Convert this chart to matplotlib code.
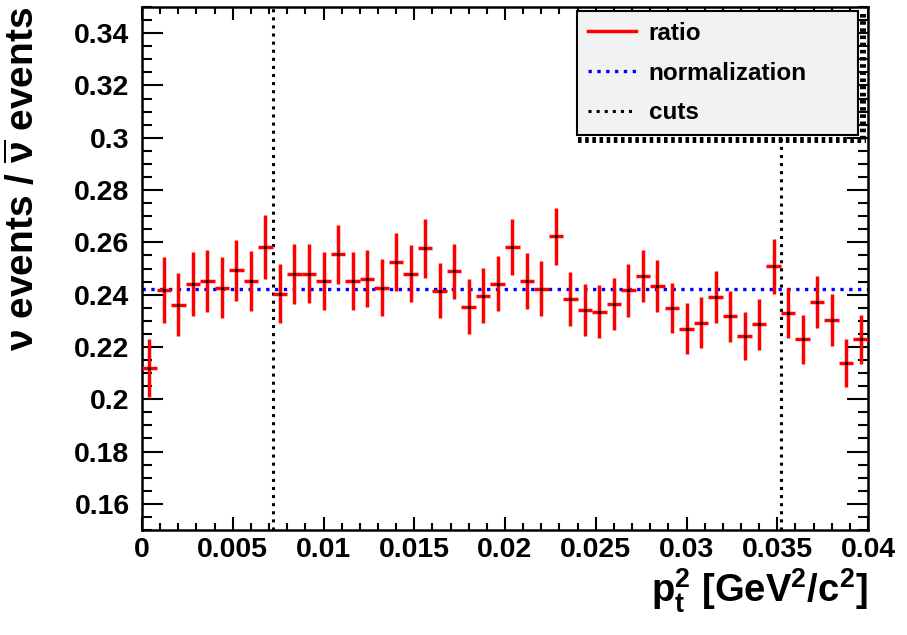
import matplotlib
matplotlib.use('Agg')
import matplotlib.pyplot as plt
from matplotlib.ticker import MultipleLocator, FuncFormatter
from matplotlib.lines import Line2D
import numpy as np

plt.rcParams['font.family'] = ['Liberation Sans', 'DejaVu Sans']
plt.rcParams['font.weight'] = 'bold'
plt.rcParams['mathtext.fontset'] = 'custom'
plt.rcParams['mathtext.rm'] = 'Liberation Sans:bold'
plt.rcParams['mathtext.it'] = 'Liberation Sans:bold'
plt.rcParams['mathtext.bf'] = 'Liberation Sans:bold'
plt.rcParams['mathtext.default'] = 'rm'

# ---- data ----
x_min, x_max = 0.0, 0.04
n_bins = 50
ratio = [0.2120, 0.2419, 0.2362, 0.2442, 0.2452, 0.2427, 0.2493, 0.2452, 0.2582, 0.2404,
         0.2480, 0.2480, 0.2452, 0.2554, 0.2452, 0.2461, 0.2427, 0.2526, 0.2479, 0.2577,
         0.2415, 0.2489, 0.2354, 0.2396, 0.2442, 0.2582, 0.2452, 0.2423, 0.2623, 0.2382,
         0.2340, 0.2335, 0.2363, 0.2416, 0.2470, 0.2433, 0.2349, 0.2270, 0.2293, 0.2391,
         0.2317, 0.2241, 0.2287, 0.2508, 0.2331, 0.2229, 0.2373, 0.2303, 0.2139, 0.2229]
ratio_err = [0.0112, 0.0126, 0.0119, 0.0122, 0.0119, 0.0117, 0.0116, 0.0114, 0.0122, 0.0112,
             0.0114, 0.0112, 0.0110, 0.0114, 0.0110, 0.0110, 0.0108, 0.0111, 0.0109, 0.0114,
             0.0105, 0.0106, 0.0105, 0.0105, 0.0105, 0.0108, 0.0106, 0.0105, 0.0110, 0.0103,
             0.0099, 0.0102, 0.0099, 0.0101, 0.0100, 0.0101, 0.0096, 0.0097, 0.0097, 0.0099,
             0.0097, 0.0092, 0.0097, 0.0105, 0.0095, 0.0093, 0.0100, 0.0098, 0.0091, 0.0093]
normalization = 0.2423
cuts = [0.0072, 0.0352]
legend_labels = ['ratio', 'normalization', 'cuts']

edges = np.linspace(x_min, x_max, n_bins + 1)
centers = 0.5 * (edges[:-1] + edges[1:])
half_width = 0.5 * (edges[1:] - edges[:-1])

# ---- figure ----
W, H = 907, 635
fig = plt.figure(figsize=(W / 100, H / 100), dpi=100)
ax = fig.add_axes([142 / W, 1 - 530 / H, 726 / W, 523 / H])

ax.errorbar(centers, ratio, xerr=half_width, yerr=ratio_err, fmt='none',
            ecolor='#ff0000', elinewidth=2.5, capsize=0, zorder=3)
ax.plot(centers, ratio, ls='none', marker='s', ms=1.2, color='black', zorder=4)
ax.axhline(normalization, color='#0000ff', ls=':', lw=2.4, zorder=2)
for c in cuts:
    ax.axvline(c, color='black', ls=':', lw=2.2, zorder=2)

ax.set_xlim(x_min, x_max)
ax.set_ylim(0.15, 0.35)

fmt = FuncFormatter(lambda v, p: f'{round(v, 6):g}')
ax.xaxis.set_major_locator(MultipleLocator(0.005))
ax.xaxis.set_minor_locator(MultipleLocator(0.001))
ax.yaxis.set_major_locator(MultipleLocator(0.02))
ax.yaxis.set_minor_locator(MultipleLocator(0.005))
ax.xaxis.set_major_formatter(fmt)
ax.yaxis.set_major_formatter(fmt)

ax.tick_params(which='both', direction='in', top=True, right=True, width=1.5,
               labelsize=20.5, colors='black')
ax.tick_params(axis='y', which='major', length=15, pad=9)
ax.tick_params(axis='y', which='minor', length=7.5)
ax.tick_params(axis='x', which='major', length=9.5, pad=5)
ax.tick_params(axis='x', which='minor', length=5)
for lab in ax.get_xticklabels() + ax.get_yticklabels():
    lab.set_fontweight('bold')
for s in ax.spines.values():
    s.set_linewidth(1.8)

ax.set_ylabel(r'$\nu$ events / $\overline{\nu}$ events', fontsize=28,
              fontweight='bold', loc='top')
ax.yaxis.set_label_coords(-0.138, 1.0)
ax.set_xlabel(r'$p_{t}^{2}$ [GeV$^{2}$/c$^{2}$]', fontsize=27.5,
              fontweight='bold', loc='right')
ax.xaxis.set_label_coords(1.0, -0.07)

handles = [Line2D([], [], color='#ff0000', lw=2.5),
           Line2D([], [], color='#0000ff', ls=':', lw=2.4),
           Line2D([], [], color='black', ls=':', lw=2.2)]
leg = ax.legend(handles, legend_labels, loc='upper left',
                bbox_to_anchor=(0.599, 0.761, 0.387, 0.2315), mode='expand',
                borderaxespad=0, fontsize=17.5, handlelength=2.0, handletextpad=0.5,
                borderpad=0.45, labelspacing=0.69, fancybox=False, framealpha=1,
                facecolor='#f2f2f2', edgecolor='black')
leg.get_frame().set_linewidth(1.5)
leg.set_zorder(10)
for t in leg.get_texts():
    t.set_fontweight('bold')

# ROOT-style shadow strips (right and bottom) of the legend box
fig.canvas.draw()
bb = leg.get_window_extent()
to_fig = fig.transFigure.inverted()
off = 5.0
lw_pt = 4.3
(xa, ya), (xb, yb) = to_fig.transform([(bb.x1 + off, bb.y1 - 3), (bb.x1 + off, bb.y0 - off - 3)])
fig.add_artist(Line2D([xa, xb], [ya, yb], color='black', lw=lw_pt,
                      ls=(0, (0.6, 0.6)), solid_capstyle='butt', zorder=9))
(xa, ya), (xb, yb) = to_fig.transform([(bb.x0 + 1, bb.y0 - off), (bb.x1 + off + 3, bb.y0 - off)])
fig.add_artist(Line2D([xa, xb], [ya, yb], color='black', lw=lw_pt,
                      ls=(0, (0.6, 0.6)), solid_capstyle='butt', zorder=9))

fig.savefig('out.png', dpi=100, facecolor='white')
